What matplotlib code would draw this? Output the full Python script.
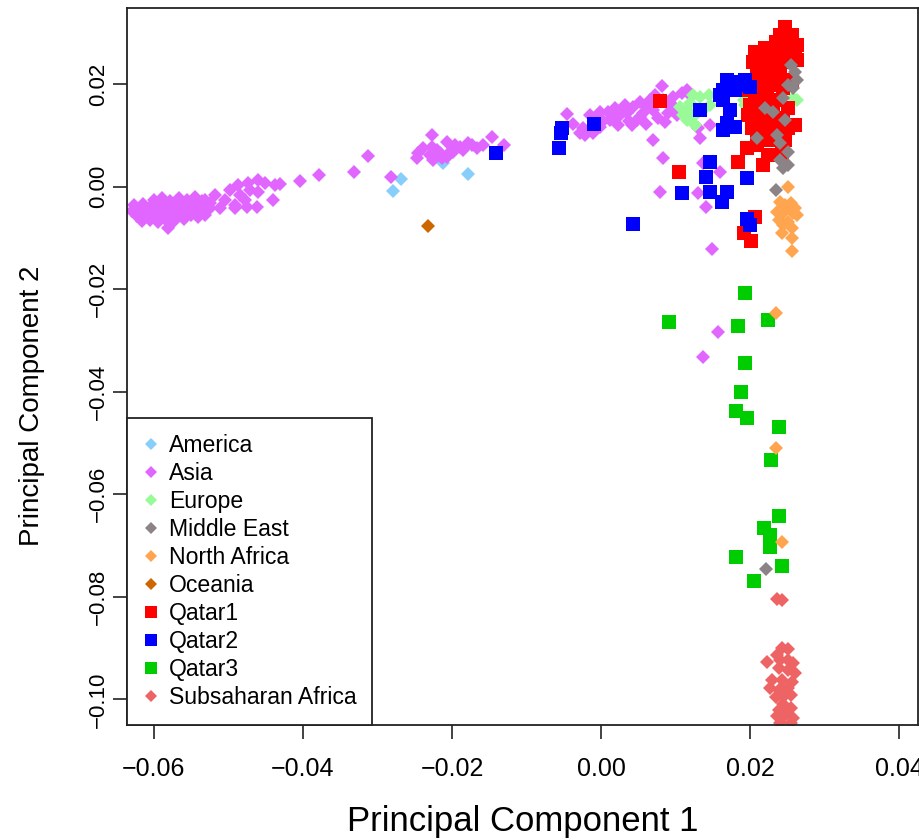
import matplotlib
matplotlib.use("Agg")
import matplotlib.pyplot as plt
from matplotlib.lines import Line2D

plt.rcParams['font.family'] = ['Liberation Sans', 'DejaVu Sans']

# ---- data (PC1, PC2) ----
america_x = [-0.0268, -0.0279, -0.0212, -0.0179]
america_y = [0.0016, -0.0008, 0.0047, 0.0025]

asia_x = [
    # dense cluster on the left
    -0.0600, -0.0589, -0.0578, -0.0566, -0.0555, -0.0545, -0.0536,
    -0.0626, -0.0614, -0.0604, -0.0594, -0.0583, -0.0573, -0.0562, -0.0552, -0.0543, -0.0533, -0.0524,
    -0.0629, -0.0619, -0.0608, -0.0598, -0.0588, -0.0577, -0.0567, -0.0557, -0.0547, -0.0537,
    -0.0623, -0.0612, -0.0601, -0.0591, -0.0581, -0.0570, -0.0561, -0.0550, -0.0541,
    -0.0616, -0.0605, -0.0594, -0.0584, -0.0573, -0.0559, -0.0581,
    # tail of the cluster
    -0.0531, -0.0518, -0.0505, -0.0511, -0.0491, -0.0484, -0.0478, -0.0498, -0.0471, -0.0475,
    -0.0491, -0.0531, -0.0525, -0.0487, -0.0474, -0.0460, -0.0451, -0.0437, -0.0460, -0.0440,
    -0.0462, -0.0431,
    # sparse points
    -0.0404, -0.0378, -0.0331, -0.0313, -0.0282,
    # group near -0.02
    -0.0247, -0.0246, -0.0239, -0.0227, -0.0227, -0.0220, -0.0216, -0.0207, -0.0203, -0.0189,
    -0.0178, -0.0166, -0.0158, -0.0146, -0.0130, -0.0229, -0.0225, -0.0213, -0.0207, -0.0199,
    -0.0196, -0.0185, -0.0173,
    # upper right band
    -0.0046, -0.0038, -0.0024, -0.0021, -0.0005, -0.0001, 0.0009, 0.0012, 0.0025, 0.0042,
    0.0043, 0.0052, 0.0062, 0.0070, 0.0082, 0.0083, 0.0093, 0.0097, 0.0109, 0.0109,
    0.0070, 0.0083, 0.0056, 0.0035, 0.0048, 0.0089, -0.0001, -0.0011, -0.0028, -0.0015,
    0.0019, 0.0032, 0.0072, 0.0099, 0.0119, 0.0052, 0.0023, 0.0076, 0.0133, 0.0146,
    0.0130, 0.0115, 0.0003, 0.0016, 0.0038, 0.0060, 0.0086, 0.0102, 0.0066, 0.0029,
    # scattered below
    0.0079, 0.0130, 0.0140, 0.0149, 0.0157, 0.0137, 0.0160, 0.0137,
]
asia_y = [
    -0.0025, -0.0021, -0.0027, -0.0022, -0.0026, -0.0020, -0.0028,
    -0.0036, -0.0033, -0.0038, -0.0032, -0.0036, -0.0033, -0.0037, -0.0034, -0.0031, -0.0036, -0.0032,
    -0.0047, -0.0044, -0.0048, -0.0043, -0.0047, -0.0044, -0.0048, -0.0045, -0.0049, -0.0044,
    -0.0056, -0.0053, -0.0057, -0.0054, -0.0058, -0.0055, -0.0059, -0.0054, -0.0058,
    -0.0066, -0.0064, -0.0068, -0.0065, -0.0067, -0.0063, -0.0080,
    -0.0025, -0.0016, -0.0025, -0.0041, -0.0035, -0.0016, -0.0025, -0.0006, -0.0006, -0.0039,
    -0.0041, -0.0055, -0.0041, 0.0004, 0.0008, 0.0014, 0.0008, 0.0004, -0.0010, -0.0025,
    -0.0039, 0.0006,
    0.0012, 0.0023, 0.0029, 0.0060, 0.0020,
    0.0057, 0.0066, 0.0076, 0.0101, 0.0078, 0.0072, 0.0066, 0.0088, 0.0068, 0.0078,
    0.0086, 0.0076, 0.0082, 0.0098, 0.0082, 0.0062, 0.0053, 0.0057, 0.0059, 0.0068,
    0.0082, 0.0072, 0.0082,
    0.0142, 0.0123, 0.0115, 0.0101, 0.0137, 0.0146, 0.0146, 0.0131, 0.0140, 0.0121,
    0.0156, 0.0166, 0.0156, 0.0150, 0.0197, 0.0170, 0.0164, 0.0176, 0.0183, 0.0150,
    0.0092, 0.0057, 0.0144, 0.0144, 0.0131, 0.0144, 0.0117, 0.0105, 0.0105, 0.0140,
    0.0154, 0.0160, 0.0179, 0.0154, 0.0179, 0.0137, 0.0121, 0.0135, 0.0096, 0.0121,
    0.0115, 0.0189, 0.0128, 0.0133, 0.0129, 0.0123, 0.0127, 0.0140, 0.0170, 0.0150,
    -0.0010, -0.0012, -0.0039, -0.0121, -0.0283, -0.0332, 0.0029, 0.0047,
]

europe_x = [0.0115, 0.0106, 0.0123, 0.0133, 0.0144, 0.0115, 0.0119, 0.0137, 0.0126, 0.0110,
            0.0146, 0.0191, 0.0200, 0.0193, 0.0258, 0.0263, 0.0123]
europe_y = [0.0150, 0.0156, 0.0137, 0.0176, 0.0179, 0.0131, 0.0164, 0.0150, 0.0121, 0.0140,
            0.0160, 0.0170, 0.0176, 0.0160, 0.0174, 0.0170, 0.0179]

mideast_x = [0.0260, 0.0250, 0.0258, 0.0244, 0.0220, 0.0231, 0.0236, 0.0240, 0.0250, 0.0209,
             0.0244, 0.0250, 0.0234, 0.0221, 0.0254, 0.0263, 0.0247, 0.0240]
mideast_y = [0.0224, 0.0199, 0.0193, 0.0174, 0.0154, 0.0146, 0.0101, 0.0086, 0.0068, 0.0096,
             0.0037, 0.0043, -0.0006, -0.0745, 0.0238, 0.0209, 0.0131, 0.0053]

nafrica_x = [0.0250, 0.0240, 0.0254, 0.0236, 0.0244, 0.0258, 0.0250, 0.0263, 0.0238, 0.0251,
             0.0244, 0.0256, 0.0243, 0.0256, 0.0256, 0.0234, 0.0234, 0.0243, 0.0247, 0.0260]
nafrica_y = [0.0000, -0.0029, -0.0031, -0.0049, -0.0051, -0.0051, -0.0041, -0.0055, -0.0064, -0.0068,
             -0.0074, -0.0080, -0.0090, -0.0100, -0.0125, -0.0246, -0.0509, -0.0693, -0.0035, -0.0041]

oceania_x = [-0.0232]
oceania_y = [-0.0076]

qatar1_x = [
    0.0079, 0.0105, 0.0184, 0.0196, 0.0209, 0.0224, 0.0243, 0.0217, 0.0207, 0.0192, 0.0201,
    0.0247, 0.0240, 0.0256, 0.0234, 0.0250, 0.0263, 0.0220, 0.0207, 0.0227, 0.0244, 0.0260,
    0.0204, 0.0217, 0.0234, 0.0250, 0.0209, 0.0224, 0.0240, 0.0256, 0.0200, 0.0213, 0.0230,
    0.0244, 0.0193, 0.0207, 0.0223, 0.0238, 0.0200, 0.0216, 0.0231, 0.0250, 0.0197, 0.0211,
    0.0227, 0.0244, 0.0203, 0.0217, 0.0234, 0.0250, 0.0209, 0.0227, 0.0247, 0.0260, 0.0263,
]
qatar1_y = [
    0.0168, 0.0029, 0.0049, 0.0076, 0.0082, 0.0062, 0.0066, 0.0043, -0.0059, -0.0090, -0.0105,
    0.0312, 0.0297, 0.0297, 0.0283, 0.0283, 0.0277, 0.0271, 0.0263, 0.0260, 0.0263, 0.0258,
    0.0244, 0.0244, 0.0238, 0.0244, 0.0224, 0.0224, 0.0219, 0.0209, 0.0205, 0.0199, 0.0199,
    0.0193, 0.0189, 0.0179, 0.0179, 0.0170, 0.0160, 0.0154, 0.0160, 0.0154, 0.0140, 0.0135,
    0.0131, 0.0135, 0.0115, 0.0115, 0.0111, 0.0115, 0.0096, 0.0092, 0.0092, 0.0121, 0.0248,
]

qatar2_x = [-0.0141, -0.0056, -0.0054, -0.0052, -0.0009, 0.0043, 0.0133, 0.0169, 0.0177, 0.0164,
            0.0164, 0.0173, 0.0169, 0.0164, 0.0180, 0.0187, 0.0200, 0.0146, 0.0140, 0.0109,
            0.0146, 0.0162, 0.0169, 0.0196, 0.0196, 0.0200, 0.0160, 0.0180, 0.0193]
qatar2_y = [0.0066, 0.0076, 0.0105, 0.0115, 0.0123, -0.0072, 0.0150, 0.0209, 0.0205, 0.0189,
            0.0170, 0.0150, 0.0125, 0.0111, 0.0117, 0.0199, 0.0195, 0.0049, 0.0020, -0.0012,
            -0.0010, -0.0029, -0.0010, 0.0018, -0.0062, -0.0074, 0.0179, 0.0189, 0.0209]

qatar3_x = [0.0193, 0.0091, 0.0184, 0.0224, 0.0193, 0.0188, 0.0181, 0.0196, 0.0238, 0.0228,
            0.0239, 0.0219, 0.0227, 0.0227, 0.0181, 0.0242, 0.0205]
qatar3_y = [-0.0207, -0.0263, -0.0271, -0.0259, -0.0343, -0.0400, -0.0437, -0.0451, -0.0468, -0.0533,
            -0.0642, -0.0665, -0.0679, -0.0702, -0.0722, -0.0739, -0.0769]

ssafrica_x = [0.0236, 0.0242, 0.0243, 0.0223, 0.0236, 0.0251, 0.0258, 0.0238, 0.0251, 0.0260,
              0.0229, 0.0243, 0.0256, 0.0227, 0.0238, 0.0251, 0.0244, 0.0234, 0.0254, 0.0238,
              0.0254, 0.0236, 0.0247, 0.0258, 0.0240, 0.0254, 0.0240, 0.0247, 0.0244, 0.0250]
ssafrica_y = [-0.0804, -0.0806, -0.0899, -0.0927, -0.0913, -0.0923, -0.0929, -0.0938, -0.0942, -0.0948,
              -0.0962, -0.0962, -0.0966, -0.0977, -0.0981, -0.0977, -0.0995, -0.0995, -0.0991, -0.1020,
              -0.1016, -0.1032, -0.1030, -0.1036, -0.1046, -0.1046, -0.0923, -0.0981, -0.1010, -0.0902]

labels = ["America", "Asia", "Europe", "Middle East", "North Africa", "Oceania",
          "Qatar1", "Qatar2", "Qatar3", "Subsaharan Africa"]
colors = {"America": "#87CEFA", "Asia": "#E066FF", "Europe": "#98FB98",
          "Middle East": "#8B8386", "North Africa": "#FFA54F", "Oceania": "#CD6600",
          "Qatar1": "#FF0000", "Qatar2": "#0000FF", "Qatar3": "#00CD00",
          "Subsaharan Africa": "#EE6363"}
data = {"America": (america_x, america_y), "Asia": (asia_x, asia_y),
        "Europe": (europe_x, europe_y), "Middle East": (mideast_x, mideast_y),
        "North Africa": (nafrica_x, nafrica_y), "Oceania": (oceania_x, oceania_y),
        "Qatar1": (qatar1_x, qatar1_y), "Qatar2": (qatar2_x, qatar2_y),
        "Qatar3": (qatar3_x, qatar3_y), "Subsaharan Africa": (ssafrica_x, ssafrica_y)}
squares = {"Qatar1", "Qatar2", "Qatar3"}
draw_order = ["America", "Asia", "Europe", "Qatar1", "Qatar2", "Qatar3",
              "Middle East", "North Africa", "Oceania", "Subsaharan Africa"]

DIAMOND_MS = 7.2
SQUARE_MS = 10.3

fig = plt.figure(figsize=(9.19, 8.4), dpi=100)
ax = fig.add_axes([127 / 919, 115 / 840, (918 - 127) / 919, (725 - 8) / 840])

for g in draw_order:
    xs, ys = data[g]
    if g in squares:
        ax.plot(xs, ys, ls="none", marker="s", ms=SQUARE_MS, color=colors[g], mew=0)
    else:
        ax.plot(xs, ys, ls="none", marker="D", ms=DIAMOND_MS, color=colors[g], mew=0)

ax.set_xlim(-0.0636, 0.0425)
ax.set_ylim(-0.105, 0.0349)

xt = [-0.06, -0.04, -0.02, 0.00, 0.02, 0.04]
yt = [-0.10, -0.08, -0.06, -0.04, -0.02, 0.00, 0.02]
ax.set_xticks(xt)
ax.set_xticklabels([f"{v:.2f}".replace("-", "\u2212") for v in xt])
ax.set_yticks(yt)
ax.set_yticklabels([f"{v:.2f}".replace("-", "\u2212") for v in yt], rotation=90, va="center")
ax.tick_params(axis="both", length=10, width=1.2, color="#222222")
ax.tick_params(axis="x", pad=13, labelsize=18)
ax.tick_params(axis="y", pad=3, labelsize=16)
for s in ax.spines.values():
    s.set_linewidth(1.3)
    s.set_color("#222222")

ax.set_xlabel("Principal Component 1", fontsize=25, labelpad=17)
ax.set_ylabel("Principal Component 2", fontsize=20)
ax.yaxis.set_label_coords(-0.104, 0.445)

handles = []
for g in labels:
    m = "s" if g in squares else "D"
    ms = 8.0 if g in squares else 6.0
    handles.append(Line2D([], [], ls="none", marker=m, ms=ms, color=colors[g], mew=0))
leg = ax.legend(handles, labels, loc="lower left", bbox_to_anchor=(0, 0),
                fontsize=16.6, frameon=True, fancybox=False, edgecolor="#222222",
                framealpha=1, handlelength=0.7, handletextpad=0.45, labelspacing=0.22,
                borderpad=0.68, borderaxespad=0)
leg.get_frame().set_linewidth(1.3)

fig.savefig("out.png", dpi=100)
